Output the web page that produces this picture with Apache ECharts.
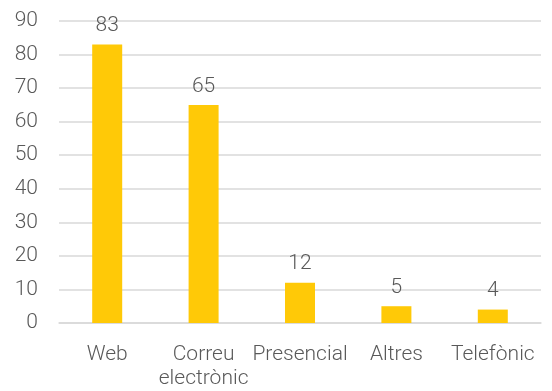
<!DOCTYPE html>
<html>
<head>
<meta charset="utf-8">
<script src="https://cdn.jsdelivr.net/npm/echarts@6/dist/echarts.min.js"></script>
<style>
  html, body { margin: 0; padding: 0; background: #fff; }
  #chart { width: 552px; height: 391px; }
</style>
</head>
<body>
<div id="chart"></div>
<script>
const categories = ['Web', 'Correu\nelectrònic', 'Presencial', 'Altres', 'Telefònic'];
const values = [83, 65, 12, 5, 4];

const textColor = '#595959';
const chart = echarts.init(document.getElementById('chart'));

chart.setOption({
  animation: false,
  textStyle: { fontFamily: 'Roboto', fontWeight: 300 },
  grid: { left: 59, right: 11, top: 21, bottom: 63, containLabel: false },
  xAxis: {
    type: 'category',
    data: categories,
    axisLine: { show: true, lineStyle: { color: '#D9D9D9', width: 1.5 } },
    axisTick: { show: false },
    axisLabel: {
      color: textColor, fontSize: 21, fontWeight: 300, margin: 20, lineHeight: 24,
      interval: 0, fontFamily: 'Roboto'
    }
  },
  yAxis: {
    type: 'value',
    min: 0, max: 90, interval: 10,
    axisLine: { show: false },
    axisTick: { show: false },
    splitLine: { lineStyle: { color: '#D9D9D9', width: 1.5 } },
    axisLabel: { color: textColor, fontSize: 21, fontWeight: 300, margin: 21, fontFamily: 'Roboto' }
  },
  series: [{
    type: 'bar',
    data: values,
    barWidth: 30,
    itemStyle: { color: '#FFC907' },
    label: {
      show: true, position: 'top', distance: 8,
      color: textColor, fontSize: 21, fontWeight: 300, fontFamily: 'Roboto'
    }
  }]
});
</script>
</body>
</html>
